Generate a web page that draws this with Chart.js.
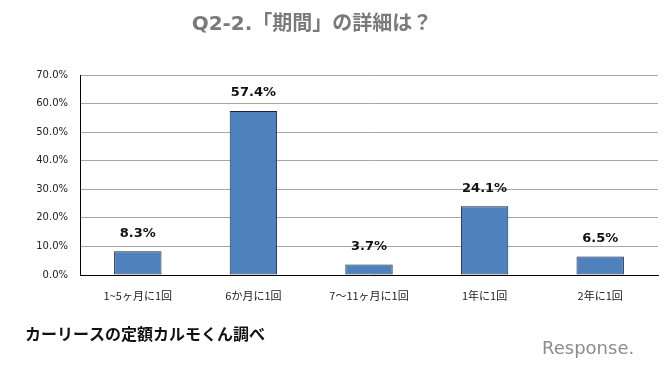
<!DOCTYPE html>
<html>
<head>
<meta charset="utf-8">
<script src="https://cdn.jsdelivr.net/npm/chart.js@4"></script>
<style>
  html, body { margin: 0; padding: 0; background: #fff; }
  #wrap { width: 667px; height: 367px; position: relative; }
</style>
</head>
<body>
<div id="wrap"><canvas id="bar-chart" width="667" height="367"></canvas></div>
<script>
var categories = ["1~5ヶ月に1回", "6か月に1回", "7～11ヶ月に1回", "1年に1回", "2年に1回"];
var shares = [8.3, 57.4, 3.7, 24.1, 6.5];
var titleText = "Q2-2.「期間」の詳細は？";
var sourceText = "カーリースの定額カルモくん調べ";

// value labels, title, source and logo drawn on the canvas
var extras = {
  id: "extras",
  afterDatasetsDraw: function (chart) {
    var ctx = chart.ctx;
    var meta = chart.getDatasetMeta(0);
    ctx.save();
    ctx.fillStyle = "#111";
    ctx.font = "bold 13px 'DejaVu Sans'";
    ctx.textAlign = "center";
    ctx.textBaseline = "middle";
    meta.data.forEach(function (bar, i) {
      ctx.fillText(shares[i].toFixed(1) + "%", bar.x, bar.y - 18);
    });
    ctx.restore();
  },
  afterDraw: function (chart) {
    var ctx = chart.ctx;
    ctx.save();
    ctx.textBaseline = "middle";
    ctx.fillStyle = "#7a7a7a";
    ctx.font = "bold 20px 'DejaVu Sans', 'Noto Sans CJK JP'";
    ctx.textAlign = "center";
    ctx.fillText(titleText, 312, 25);
    ctx.fillStyle = "#111";
    ctx.font = "bold 16px 'Noto Sans CJK JP'";
    ctx.textAlign = "left";
    ctx.fillText(sourceText, 25, 334);
    ctx.fillStyle = "#8c8c8c";
    ctx.font = "18px 'DejaVu Sans'";
    ctx.fillText("Response.", 542, 349);
    ctx.restore();
  }
};

new Chart(document.getElementById("bar-chart"), {
  type: "bar",
  data: {
    labels: categories,
    datasets: [{
      data: shares,
      backgroundColor: "#4f81bd",
      borderColor: "#15243f",
      borderWidth: 1,
      borderSkipped: false,
      categoryPercentage: 1,
      barPercentage: 0.41
    }]
  },
  options: {
    responsive: false,
    animation: false,
    layout: { padding: { top: 75, right: 9, left: 0, bottom: 0 } },
    plugins: {
      legend: { display: false },
      tooltip: { enabled: false }
    },
    scales: {
      x: {
        grid: { display: false },
        border: { color: "#000", width: 1 },
        ticks: {
          color: "#222",
          font: { family: "'Noto Sans CJK JP'", size: 11 },
          padding: 6,
          maxRotation: 0
        },
        afterFit: function (s) { s.height = 92; }
      },
      y: {
        min: 0,
        max: 70,
        grid: { color: "#a6a6a6", drawTicks: false },
        border: { color: "#000", width: 1 },
        ticks: {
          stepSize: 10,
          color: "#222",
          padding: 12,
          font: { family: "'DejaVu Sans'", size: 10 },
          callback: function (v) { return v.toFixed(1) + "%"; }
        },
        afterFit: function (s) { s.width = 80; }
      }
    }
  },
  plugins: [extras]
});
</script>
</body>
</html>
